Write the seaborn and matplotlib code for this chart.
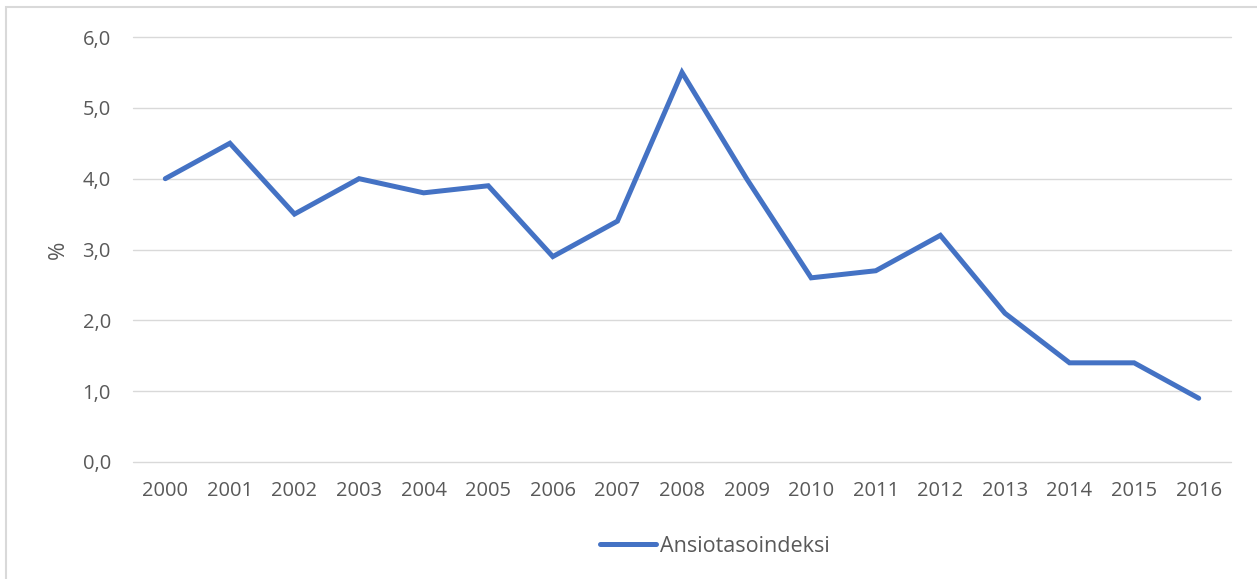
import matplotlib
matplotlib.use("Agg")
import matplotlib.pyplot as plt
import seaborn as sns
import pandas as pd
from matplotlib.patches import Rectangle

years = list(range(2000, 2017))
values = [4.0, 4.5, 3.5, 4.0, 3.8, 3.9, 2.9, 3.4, 5.5, 4.0, 2.6, 2.7, 3.2, 2.1, 1.4, 1.4, 0.9]
series_name = "Ansiotasoindeksi"
y_ticks = [0.0, 1.0, 2.0, 3.0, 4.0, 5.0, 6.0]
y_label = "%"

sns.set_theme(style="white")
plt.rcParams['font.family'] = ['Open Sans', 'DejaVu Sans']

df = pd.DataFrame({"Vuosi": years, "Arvo": values, "Sarja": series_name})

fig = plt.figure(figsize=(12.57, 5.79), dpi=100)
W, H = 1257, 579
ax = fig.add_axes([133 / W, 1 - 462 / H, (1231 - 133) / W, (462 - 37) / H])

sns.lineplot(data=df, x="Vuosi", y="Arvo", hue="Sarja", palette=["#4472C4"],
             linewidth=3.6, ax=ax, legend=True, solid_capstyle="round",
             solid_joinstyle="miter")

ax.set_xlim(years[0] - 0.5, years[-1] + 0.5)
ax.set_ylim(0, 6)
ax.set_xticks(years)
ax.set_xticklabels([str(y) for y in years])
ax.set_yticks(y_ticks)
ax.set_yticklabels([f"{v:.1f}".replace(".", ",") for v in y_ticks])
ax.grid(axis="y", color="#D9D9D9", linewidth=1.0)
for gl in ax.get_ygridlines():
    gl.set_clip_on(False)
ax.set_axisbelow(True)
for s in ax.spines.values():
    s.set_visible(False)
ax.tick_params(axis="both", length=0, labelsize=14.5, colors="#595959")
ax.tick_params(axis="y", pad=16)
ax.tick_params(axis="x", pad=14)
ax.set_xlabel("")
ax.set_ylabel(y_label, fontsize=16, color="#595959", labelpad=10)

leg = ax.legend(loc="center", bbox_to_anchor=(715 / W, 1 - 546 / H),
                bbox_transform=fig.transFigure, frameon=False, fontsize=15.5,
                handlelength=2.6, handletextpad=0.2)
for t in leg.get_texts():
    t.set_color("#595959")
for l in leg.get_lines():
    l.set_linewidth(3.6)

fig.patches.append(Rectangle((6 / W, -0.1), 1.2, 1 - 7 / H + 0.1,
                             transform=fig.transFigure, fill=False,
                             edgecolor="#D9D9D9", linewidth=1.5))

fig.savefig("out.png", dpi=100)
